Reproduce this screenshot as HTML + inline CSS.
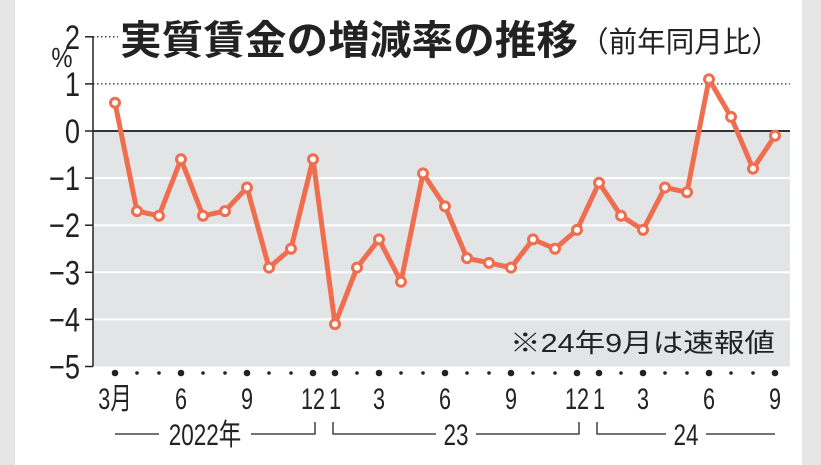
<!DOCTYPE html>
<html><head><meta charset="utf-8"><style>
body{margin:0;background:#e6e6e6;}
svg{display:block;font-family:"Liberation Sans","Noto Sans CJK JP",sans-serif;}
</style></head><body>
<svg width="821" height="465" viewBox="0 0 821 465">
<rect x="15" y="0" width="787" height="465" fill="#fff"/>
<g id="plot"></g>
<text x="120" y="54" font-size="40" font-weight="bold" fill="#222" textLength="458" lengthAdjust="spacingAndGlyphs">実質賃金の増減率の推移</text>
<text x="580" y="52" font-size="29" fill="#222" textLength="200" lengthAdjust="spacingAndGlyphs">（前年同月比）</text>
<text x="510" y="352" font-size="26" fill="#222" textLength="265" lengthAdjust="spacingAndGlyphs">※24年9月は速報値</text>
</svg>
<script>
const values=[0.6,-1.7,-1.8,-0.6,-1.8,-1.7,-1.2,-2.9,-2.5,-0.6,-4.1,-2.9,-2.3,-3.2,-0.9,-1.6,-2.7,-2.8,-2.9,-2.3,-2.5,-2.1,-1.1,-1.8,-2.1,-1.2,-1.3,1.1,0.3,-0.8,-0.1];
const monthNums=[3,4,5,6,7,8,9,10,11,12,1,2,3,4,5,6,7,8,9,10,11,12,1,2,3,4,5,6,7,8,9];
const monthLabels={0:"3月",3:"6",6:"9",9:"12",10:"1",12:"3",15:"6",18:"9",21:"12",22:"1",24:"3",27:"6",30:"9"};
const yTicks=[2,1,0,-1,-2,-3,-4,-5];
const years=[{label:"2022年",from:0,to:9},{label:"23",from:10,to:21},{label:"24",from:22,to:30}];
const NS="http://www.w3.org/2000/svg";
const g=document.getElementById('plot');
const X0=93,X1=790;
const xs=i=>115+i*22;
const ys=v=>131-v*47.1;
function el(t,a,p){const e=document.createElementNS(NS,t);for(const k in a)e.setAttribute(k,a[k]);(p||g).appendChild(e);return e;}
function ctext(x,y,size,anchor,sx){return el('text',{x:0,y:0,'font-size':size,'text-anchor':anchor,fill:'#222',transform:`translate(${x},${y}) scale(${sx},1)`});}
let r=el('rect',{x:X0,y:ys(0),width:X1-X0,height:ys(-5)-ys(0),fill:'#e3e4e6'});


yTicks.forEach(v=>{
 const y=ys(v);
 if(v<0&&v>-5){const l=el('line',{x1:X0,x2:X1,y1:y,y2:y,stroke:'#fff','stroke-width':2});
 
 }
 if(v===1){const l=el('line',{x1:X0,x2:X1,y1:y,y2:y,stroke:'#333','stroke-width':1.3,'stroke-dasharray':'1.5 2.5'});
 
 }
 if(v===2){const l=el('line',{x1:X0,x2:118,y1:y,y2:y,stroke:'#333','stroke-width':1.3,'stroke-dasharray':'1.5 2.5'});
 
 }
 const tk=el('line',{x1:X0-8,x2:X0,y1:y,y2:y,stroke:'#222','stroke-width':1.5});
 
 
 const t=ctext(80,y+12,34,'end',0.8);
 t.textContent=(v<0?'−'+(-v):String(v));
 
 
});
const pc=ctext(62,67,28,'middle',0.85);pc.textContent='%';


const ax=el('line',{x1:X0,x2:X0,y1:ys(2),y2:ys(-5),stroke:'#222','stroke-width':1.5});


const zl=el('line',{x1:X0,x2:X1,y1:ys(0),y2:ys(0),stroke:'#333','stroke-width':2});


const line=el('polyline',{points:values.map((v,i)=>xs(i)+','+ys(v)).join(' '),fill:'none',stroke:'#ef6e4f','stroke-width':5,'stroke-linejoin':'round'});


values.forEach((v,i)=>{
 const c=el('circle',{cx:xs(i),cy:ys(v),r:4.5,fill:'#fff',stroke:'#ef6e4f','stroke-width':3});
 
 
 const big=monthLabels[i]!==undefined;
 const d=el('circle',{cx:xs(i),cy:373,r:big?3.3:1.8,fill:'#222'});
 
 
 if(big){const t=ctext(xs(i),409,30,'middle',0.72);
 t.textContent=monthLabels[i];
 
 }
});
years.forEach((yr,k)=>{
 const a=xs(yr.from)-(k===0?0:2),b=xs(yr.to)+(k===2?0:2),m=(a+b)/2+(k===0?-10:0);
 const w=k===0?92:40;
 const y=434;
 const p=el('path',{d:`M${a} ${k===0?y:y-12} L${a} ${y} L${m-w/2} ${y} M${m+w/2} ${y} L${b} ${y} ${k===2?'':'L'+b+' '+(y-12)}`,fill:'none',stroke:'#222','stroke-width':1.3});
 
 
 const t=ctext(m,y+11,30,'middle',0.75);
 t.textContent=yr.label;
 
 
});
</script>
</body></html>
